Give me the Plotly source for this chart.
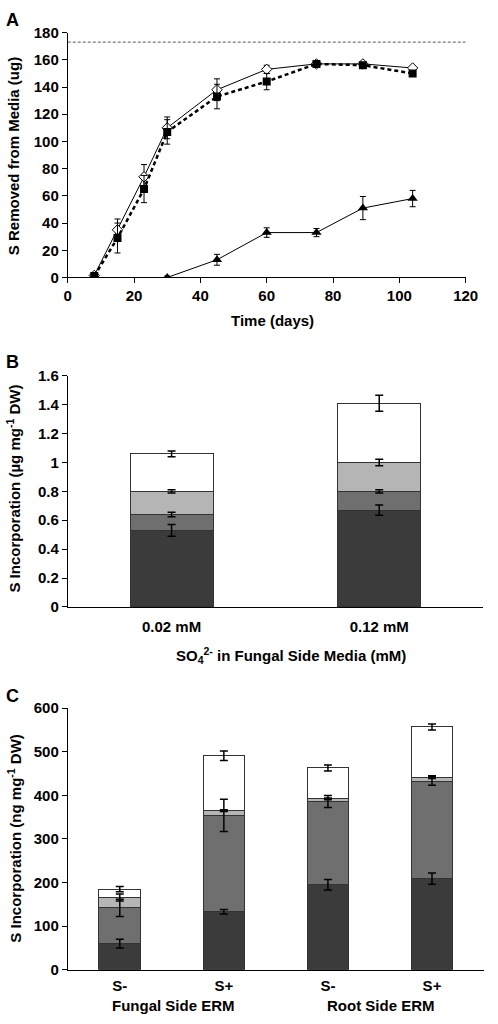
import plotly.graph_objects as go

W, H = 498, 1024

# ---------------- Panel A data ----------------
days_a = [8, 15, 23, 30, 45, 60, 75, 89, 104]
diamond_vals = [1.5, 35, 74, 110, 138, 153, 157, 157, 154]
diamond_err = [2, 8, 9, 8, 8, 3, 1.5, 1.5, 1.5]
square_vals = [1, 29, 65, 107, 133, 144, 157, 156, 150]
square_err = [2, 11, 10, 9, 9, 6, 2, 2, 2]
days_tri = [30, 45, 60, 75, 89, 104]
tri_vals = [0, 13, 33, 33, 51, 58]
tri_err = [1, 4, 3.5, 3, 8.5, 6]
supplied_s = 173
x_range_a = [0, 120]

# ---------------- Panel B data ----------------
cats_b = ["0.02 mM", "0.12 mM"]
b_seg1 = [0.53, 0.67]
b_seg2 = [0.11, 0.13]
b_seg3 = [0.16, 0.20]
b_seg4 = [0.26, 0.41]
b_err1 = [0.04, 0.035]
b_err2 = [0.015, 0.012]
b_err3 = [0.012, 0.022]
b_err4 = [0.02, 0.055]

# ---------------- Panel C data ----------------
cats_c = ["F S-", "F S+", "R S-", "R S+"]
ticks_c = ["S-", "S+", "S-", "S+"]
groups_c = ["Fungal Side ERM", "Root Side ERM"]
c_seg1 = [60, 133, 195, 209]
c_seg2 = [82, 221, 191, 224]
c_seg3 = [24, 11, 6, 9]
c_seg4 = [19, 126, 71, 115]
c_err1 = [10, 5, 12, 13]
c_err2 = [20, 37, 14, 10]
c_err3 = [8, 2, 2, 3]
c_err4 = [6, 11, 7, 7]

seg_colors = ["#3b3b3b", "#6f6f6f", "#b5b5b5", "#ffffff"]
FONT = "Liberation Sans, Arial, sans-serif"
FS = 15


def px_x(x):
    return x / W


def px_y(y):
    return 1 - y / H


fig = go.Figure()

# ---- Panel A traces ----
fig.add_trace(go.Scatter(
    x=x_range_a, y=[supplied_s, supplied_s], mode="lines",
    line=dict(color="#555555", width=1, dash="3px,2px"),
    xaxis="x", yaxis="y", showlegend=False, hoverinfo="skip"))
fig.add_trace(go.Scatter(
    x=days_a, y=diamond_vals, mode="lines+markers",
    line=dict(color="black", width=1),
    marker=dict(symbol="diamond", size=8, color="white", line=dict(color="black", width=1)),
    error_y=dict(type="data", array=diamond_err, color="black", thickness=1, width=3),
    xaxis="x", yaxis="y", showlegend=False))
fig.add_trace(go.Scatter(
    x=days_a, y=square_vals, mode="lines+markers",
    line=dict(color="black", width=2.5, dash="4px,3px"),
    marker=dict(symbol="square", size=8, color="black"),
    error_y=dict(type="data", array=square_err, color="black", thickness=1, width=3),
    xaxis="x", yaxis="y", showlegend=False))
fig.add_trace(go.Scatter(
    x=days_tri, y=tri_vals, mode="lines+markers",
    line=dict(color="black", width=1),
    marker=dict(symbol="triangle-up", size=9, color="black"),
    error_y=dict(type="data", array=tri_err, color="black", thickness=1, width=3),
    xaxis="x", yaxis="y", showlegend=False))


def stacked(cats, segs, errs, xa, ya):
    # bars
    for seg, col in zip(segs, seg_colors):
        fig.add_trace(go.Bar(
            x=cats, y=seg, marker=dict(color=col, line=dict(color="#333333", width=1)),
            xaxis=xa, yaxis=ya, showlegend=False, width=0.4))
    # error bars drawn on top of all segments, at each segment's stacked top
    cum = [0] * len(cats)
    for seg, err in zip(segs, errs):
        cum = [c + s for c, s in zip(cum, seg)]
        fig.add_trace(go.Scatter(
            x=cats, y=cum, mode="markers", marker=dict(size=1, opacity=0),
            error_y=dict(type="data", array=err, color="black", thickness=1.5, width=4),
            xaxis=xa, yaxis=ya, showlegend=False, hoverinfo="skip"))


stacked(cats_b, [b_seg1, b_seg2, b_seg3, b_seg4], [b_err1, b_err2, b_err3, b_err4], "x2", "y2")
stacked(cats_c, [c_seg1, c_seg2, c_seg3, c_seg4], [c_err1, c_err2, c_err3, c_err4], "x3", "y3")

axis_common = dict(showgrid=False, zeroline=False, showline=True, linecolor="black",
                   linewidth=1, tickcolor="black", ticklen=5, ticks="outside",
                   tickfont=dict(family=FONT, size=FS, color="black", weight="bold"))

fig.update_layout(
    width=W, height=H, margin=dict(l=0, r=0, t=0, b=0),
    paper_bgcolor="white", plot_bgcolor="white",
    font=dict(family=FONT, size=FS, color="black", weight="bold"),
    barmode="stack",
    xaxis=dict(domain=[px_x(66), px_x(478)], range=x_range_a, dtick=20, anchor="y",
               **axis_common),
    yaxis=dict(domain=[px_y(273), px_y(24)], range=[0, 180], dtick=20, anchor="x",
               **axis_common),
    xaxis2=dict(domain=[px_x(66), px_x(496)], anchor="y2", ticklabelstandoff=6,
                **{**axis_common, "ticks": ""}),
    yaxis2=dict(domain=[px_y(608), px_y(373)], range=[0, 1.6], dtick=0.2, anchor="x2",
                **axis_common),
    xaxis3=dict(domain=[px_x(66), px_x(497)], anchor="y3", tickvals=cats_c, ticktext=ticks_c,
                ticklabelstandoff=2, **{**axis_common, "ticks": ""}),
    yaxis3=dict(domain=[px_y(977), px_y(711)], range=[0, 600], dtick=100, anchor="x3",
                **axis_common),
)

ann = []


def add_text(text, x, y, size=FS, angle=0):
    ann.append(dict(text=text, x=px_x(x), y=px_y(y), xref="paper", yref="paper",
                    showarrow=False, xanchor="center", yanchor="middle", textangle=angle,
                    font=dict(family=FONT, size=size, color="black", weight="bold")))


add_text("A", 9, 11, size=18)
add_text("B", 9, 359, size=18)
add_text("C", 9, 699, size=18)
add_text("S Removed from Media (ug)", 10, 150, angle=-90)
add_text("Time (days)", 278, 317)
add_text("S Incorporation (µg mg<sup>-1</sup> DW)", 10, 488, angle=-90)
add_text("SO<sub>4</sub><sup>2-</sup> in Fungal Side Media (mM)", 297, 657)
add_text("S Incorporation (ng mg<sup>-1</sup> DW)", 10, 843, angle=-90)
add_text(groups_c[0], 175, 1013)
add_text(groups_c[1], 390, 1013)
fig.update_layout(annotations=ann)

fig.write_html("out.html", config={"displayModeBar": False},
               post_script="document.body.style.margin='0';document.body.style.padding='0';")
